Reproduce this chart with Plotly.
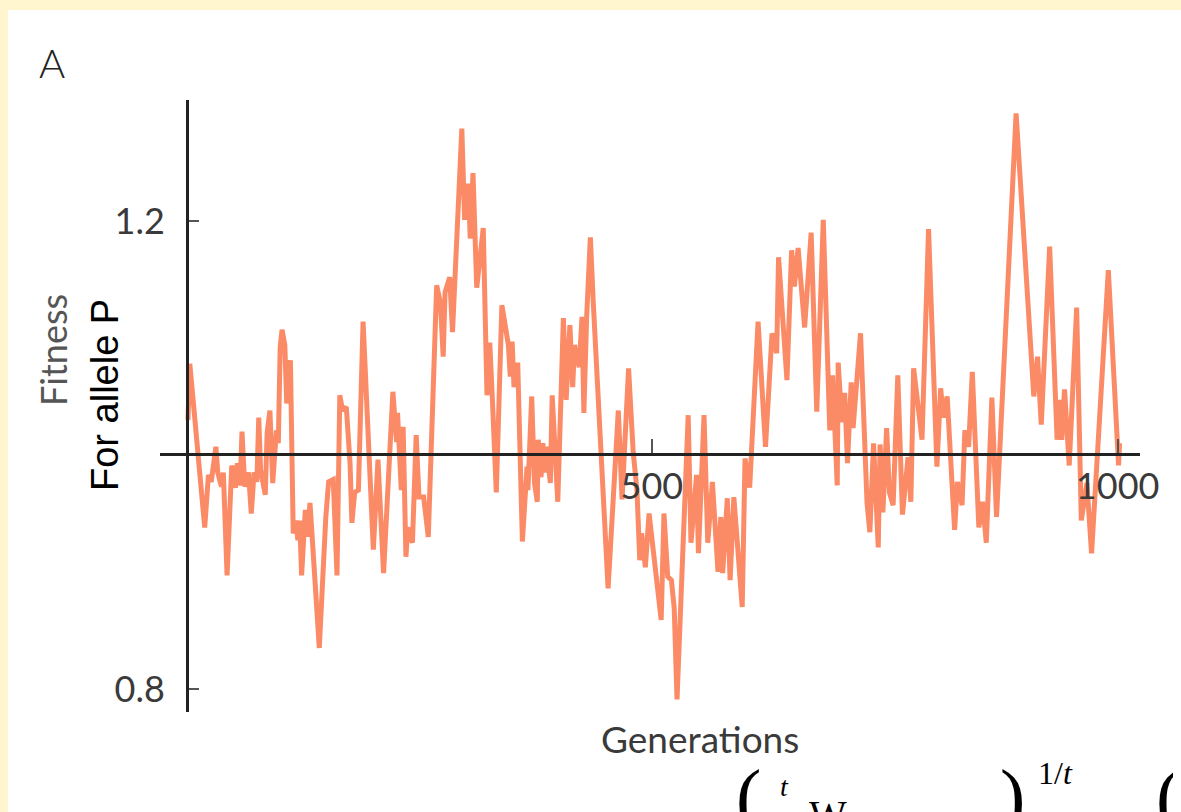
import plotly.graph_objects as go

# Generations (x) and fitness of allele P (y)
generations = [2, 4, 20, 24, 27, 32, 34, 38, 40, 44, 49, 53, 55, 58, 60, 63, 67, 70, 73, 76,
               78, 80, 85, 87, 90, 93, 97, 99, 101, 103, 106, 108, 112, 115, 118, 120, 122, 124, 128, 130,
               133, 143, 150, 153, 158, 162, 165, 168, 172, 176, 178, 181, 185, 190, 201, 206, 212, 222, 226, 227,
               231, 233, 236, 238, 243, 247, 250, 255, 260, 269, 273, 276, 278, 283, 286, 296, 299, 303, 305, 308,
               312, 319, 323, 326, 329, 333, 339, 342, 346, 348, 350, 352, 356, 361, 366, 367, 371, 374, 377, 378,
               381, 383, 385, 387, 391, 393, 396, 399, 405, 408, 412, 415, 417, 422, 425, 427, 430, 434, 437, 453,
               464, 468, 475, 480, 484, 487, 489, 493, 497, 501, 510, 513, 517, 521, 524, 527, 539, 542, 548, 550,
               556, 560, 565, 571, 574, 576, 581, 584, 588, 597, 600, 605, 614, 622, 629, 634, 636, 645, 650, 653,
               657, 664, 671, 677, 684, 691, 694, 699, 700, 704, 707, 710, 714, 716, 719, 724, 726, 731, 734, 738,
               743, 745, 748, 752, 755, 759, 764, 769, 775, 778, 781, 790, 797, 806, 810, 813, 817, 825, 828, 833,
               836, 840, 844, 851, 855, 859, 865, 870, 891, 910, 914, 918, 927, 935, 938, 940, 943, 948, 956, 961,
               967, 972, 990, 1001, 1002]
fitness = [1.030, 1.078, 0.938, 0.983, 0.977, 1.007, 0.985, 0.973, 0.985, 0.897, 0.991, 0.972, 0.993, 0.974, 1.020, 0.973, 0.985, 0.950, 0.985, 0.977,
           1.032, 0.987, 0.966, 1.019, 1.038, 0.976, 1.021, 1.010, 1.092, 1.107, 1.094, 1.044, 1.081, 0.933, 0.944, 0.927, 0.944, 0.897, 0.953, 0.930,
           0.959, 0.835, 0.947, 0.977, 0.979, 0.897, 1.051, 1.038, 1.041, 0.993, 0.942, 0.968, 0.970, 1.114, 0.919, 0.996, 0.899, 1.054, 1.011, 1.036,
           0.970, 1.024, 0.913, 0.938, 0.925, 1.017, 0.964, 0.964, 0.930, 1.145, 1.130, 1.084, 1.139, 1.152, 1.105, 1.279, 1.201, 1.232, 1.185, 1.241,
           1.143, 1.194, 1.051, 1.096, 1.044, 0.968, 1.128, 1.111, 1.094, 1.067, 1.097, 1.058, 1.079, 0.926, 0.990, 0.970, 1.050, 0.976, 0.960, 1.013,
           0.981, 1.010, 0.985, 1.007, 0.976, 1.051, 1.013, 0.960, 1.117, 1.047, 1.111, 1.058, 1.094, 1.075, 1.118, 1.036, 1.118, 1.186, 1.132, 0.886,
           1.038, 0.962, 1.074, 1.002, 0.970, 0.910, 0.933, 0.904, 0.950, 0.921, 0.859, 0.950, 0.896, 0.893, 0.869, 0.791, 1.034, 0.925, 0.983, 0.916,
           1.034, 0.925, 0.977, 0.900, 0.947, 0.899, 0.963, 0.893, 0.964, 0.870, 0.997, 0.972, 1.114, 1.007, 1.104, 1.087, 1.169, 1.064, 1.175, 1.144,
           1.177, 1.109, 1.190, 1.037, 1.201, 1.021, 1.068, 0.974, 1.079, 1.028, 1.053, 0.993, 1.062, 1.023, 1.054, 1.104, 1.062, 0.959, 0.934, 1.010,
           0.921, 1.009, 0.951, 1.023, 0.968, 0.957, 1.068, 0.949, 0.998, 0.960, 1.074, 1.013, 1.193, 0.990, 1.057, 1.032, 1.050, 0.936, 0.977, 0.957,
           1.021, 1.007, 1.071, 0.938, 0.960, 0.925, 1.049, 0.947, 1.292, 1.050, 1.084, 1.026, 1.178, 1.013, 1.047, 1.013, 1.056, 0.991, 1.126, 0.944,
           0.976, 0.916, 1.158, 0.991, 1.010]

x_tick_vals = [500, 1000]
x_tick_text = ["500", "1000"]
y_tick_vals = [0.8, 1.2]
y_tick_text = ["0.8", "1.2"]

OFF = 8  # default page margin around the figure
W, H = 1181, 812          # figure extends past the window and is clipped, like the reference
L, T = 160 - OFF, 100 - OFF
PW, PH = 980, 612
R, B = W - L - PW, H - T - PH


def px_x(px):
    return (px - OFF - L) / PW


def px_y(py):
    return (H - B - (py - OFF)) / PH


fig = go.Figure()
fig.add_trace(go.Scatter(
    x=generations, y=fitness, mode="lines",
    line=dict(color="#FB8B66", width=5),
    hoverinfo="skip", showlegend=False,
))

tick_font = dict(family="Lato", size=36, color="#3a3a3a")

fig.update_layout(
    width=W, height=H,
    margin=dict(l=L, r=R, t=T, b=B, pad=0),
    paper_bgcolor="white",
    plot_bgcolor="rgba(0,0,0,0)",
    showlegend=False,
    xaxis=dict(
        range=[-28, 1024], anchor="free", position=px_y(454),
        showgrid=False, zeroline=False,
        showline=True, linecolor="#222222", linewidth=3,
        ticks="inside", ticklen=14, tickwidth=1.5, tickcolor="#555555",
        tickvals=x_tick_vals, ticktext=x_tick_text,
        tickfont=tick_font, ticklabelstandoff=0,
    ),
    yaxis=dict(
        range=[0.7803, 1.3034], anchor="free", position=px_x(187),
        showgrid=False, zeroline=False,
        showline=True, linecolor="#222222", linewidth=3,
        ticks="inside", ticklen=10, tickwidth=2, tickcolor="#555555",
        tickvals=y_tick_vals, ticktext=y_tick_text,
        tickfont=tick_font, ticklabelstandoff=14,
    ),
    shapes=[dict(
        # thin strip of the yellow page border that overlaps the figure's top edge
        type="rect", xref="paper", yref="paper", layer="below",
        x0=px_x(0), x1=px_x(1220), y0=px_y(10), y1=px_y(0),
        fillcolor="#FFF5CF", line=dict(width=0),
    )],
)

annots = [
    dict(text="A", x=px_x(52), y=px_y(63), font=dict(family="Lato", size=40, color="#222222", weight=300)),
    dict(text="Fitness", x=px_x(53), y=px_y(350), textangle=-90,
         font=dict(family="Lato", size=36, color="#555555")),
    dict(text="For allele P", x=px_x(105), y=px_y(395), textangle=-90,
         font=dict(family="Arial, Liberation Sans", size=38, color="#000000")),
    dict(text="Generations", x=px_x(700), y=px_y(738),
         font=dict(family="Lato", size=37, color="#3a3a3a")),
    # partially visible formula at the bottom edge
    dict(text="(", x=px_x(748), y=px_y(796),
         font=dict(family="Liberation Serif", size=76, color="#000000")),
    dict(text="<i>t</i>", x=px_x(784), y=px_y(786),
         font=dict(family="Liberation Serif", size=28, color="#000000")),
    dict(text="W", x=px_x(828), y=px_y(814),
         font=dict(family="Liberation Serif", size=40, color="#000000")),
    dict(text=")", x=px_x(1012), y=px_y(796),
         font=dict(family="Liberation Serif", size=76, color="#000000")),
    dict(text="1/<i>t</i>", x=px_x(1055), y=px_y(773),
         font=dict(family="Liberation Serif", size=32, color="#000000")),
    dict(text="(", x=px_x(1168), y=px_y(796),
         font=dict(family="Liberation Serif", size=76, color="#000000")),
]
for a in annots:
    a.setdefault("xanchor", "center")
    a.setdefault("yanchor", "middle")
    fig.add_annotation(xref="paper", yref="paper", showarrow=False, **a)

fig.write_html(
    "out.html",
    post_script=(
        "document.body.style.overflow='hidden';"
        "document.body.style.background="
        "'linear-gradient(to bottom, #FFF5CF 10px, rgba(0,0,0,0) 10px),"
        " linear-gradient(to right, #FFF5CF 8px, #FFFFFF 8px)';"
    ),
)
